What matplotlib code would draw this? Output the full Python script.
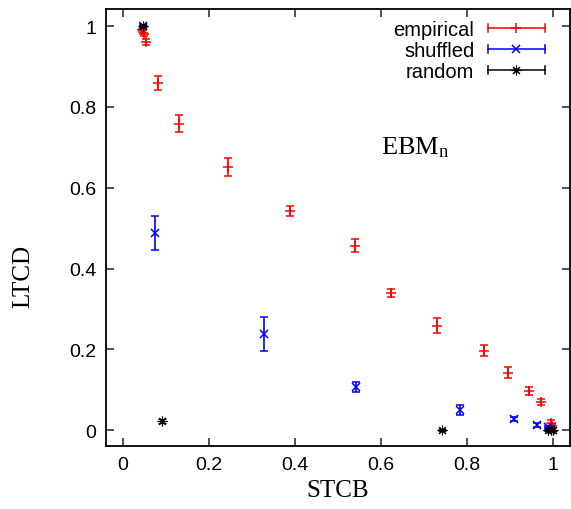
"""Recreate the LTCD vs STCB scatter with error bars (EBM_n panel)."""

import matplotlib
matplotlib.use("Agg")
import matplotlib.pyplot as plt
from matplotlib.legend_handler import HandlerBase
from matplotlib.lines import Line2D

# data
emp_x = [0.045, 0.048, 0.053, 0.082, 0.1295, 0.245, 0.388, 0.5395, 0.6226,
         0.731, 0.839, 0.896, 0.944, 0.972, 0.995, 0.998]
emp_y = [0.99, 0.98, 0.961, 0.859, 0.758, 0.651, 0.543, 0.457, 0.3395,
         0.2585, 0.1965, 0.142, 0.096, 0.069, 0.017, 0.010]
emp_err = [0.004, 0.004, 0.007, 0.017, 0.021, 0.023, 0.012, 0.016, 0.011,
           0.019, 0.014, 0.014, 0.010, 0.008, 0.008, 0.005]

shuf_x = [0.046, 0.0737, 0.3286, 0.541, 0.784, 0.910, 0.9635, 0.988, 0.995]
shuf_y = [1.0, 0.4875, 0.238, 0.1073, 0.0503, 0.0265, 0.0124, 0.007, 0.003]
shuf_err = [0.002, 0.042, 0.042, 0.013, 0.013, 0.005, 0.004, 0.003, 0.002]

rand_x = [0.046, 0.090, 0.741, 0.990, 0.995, 1.0]
rand_y = [1.0, 0.0223, 0.001, 0.001, 0.0, 0.0]
rand_err = [0.002, 0.005, 0.002, 0.002, 0.001, 0.001]

ticks = [0, 0.2, 0.4, 0.6, 0.8, 1]
tick_labels = ["0", "0.2", "0.4", "0.6", "0.8", "1"]

SANS = "Liberation Sans"
SERIF = "Liberation Serif"
ASTERISK = (8, 2, 0)


class HandlerXBar(HandlerBase):
    """gnuplot-style key sample: horizontal bar with end caps and the marker."""

    def create_artists(self, legend, orig_handle, xdescent, ydescent,
                       width, height, fontsize, trans):
        color = orig_handle.get_color()
        y = height / 2 - ydescent
        x0, x1 = -xdescent, width - xdescent
        cap = 3.0
        arts = [
            Line2D([x0, x1], [y, y], color=color, lw=1.1),
            Line2D([x0, x0], [y - cap, y + cap], color=color, lw=1.1),
            Line2D([x1, x1], [y - cap, y + cap], color=color, lw=1.1),
            Line2D([(x0 + x1) / 2], [y], color=color, marker=orig_handle.get_marker(),
                   markersize=orig_handle.get_markersize(),
                   mew=orig_handle.get_markeredgewidth(), ls="none"),
        ]
        for a in arts:
            a.set_transform(trans)
        return arts


fig = plt.figure(figsize=(5.71, 5.10), dpi=100)
ax = fig.add_axes([0.1856, 0.123, 0.8126, 0.857])

common = dict(ls="none", elinewidth=1.2, capsize=2.6, capthick=1.2)
ax.errorbar(emp_x, emp_y, yerr=emp_err, color="#ff0000", marker="+",
            markersize=6.5, mew=1.1, **common)
ax.errorbar(shuf_x, shuf_y, yerr=shuf_err, color="#0000ff", marker="x",
            markersize=5.5, mew=1.1, **common)
ax.errorbar(rand_x, rand_y, yerr=rand_err, color="black", marker=ASTERISK,
            markersize=7, mew=0.8, **common)

ax.set_xlim(-0.04, 1.04)
ax.set_ylim(-0.04, 1.042)
ax.set_xticks(ticks)
ax.set_xticklabels(tick_labels)
ax.set_yticks(ticks)
ax.set_yticklabels(tick_labels)
ax.tick_params(direction="in", length=6, width=1.2, color="#333333",
               top=True, right=True, labelsize=14, pad=7)
for lbl in ax.get_xticklabels() + ax.get_yticklabels():
    lbl.set_fontfamily(SANS)
for sp in ax.spines.values():
    sp.set_linewidth(1.3)

ax.set_xlabel("STCB", fontsize=18, fontfamily=SERIF, labelpad=4)
ax.set_ylabel("LTCD", fontsize=18, fontfamily=SERIF)
ax.yaxis.set_label_coords(-0.155, 0.39)

ax.text(0.60, 0.684, r"$\mathregular{EBM_n}$", fontsize=19, fontfamily=SERIF,
        transform=ax.transData)

handles = [
    Line2D([], [], color="#ff0000", marker="+", markersize=6.5, mew=1.1),
    Line2D([], [], color="#0000ff", marker="x", markersize=5.5, mew=1.1),
    Line2D([], [], color="black", marker=ASTERISK, markersize=7, mew=0.8),
]
leg = ax.legend(handles, ["empirical", "shuffled", "random"],
                handler_map={Line2D: HandlerXBar()},
                loc="upper right", bbox_to_anchor=(0.946, 0.975),
                frameon=False, markerfirst=False, borderpad=0, borderaxespad=0,
                handlelength=2.85, handletextpad=0.65, labelspacing=0.1,
                prop={"family": SANS, "size": 14.5})
for t in leg.get_texts():
    t.set_ha("right")

fig.savefig("out.png", dpi=100)
